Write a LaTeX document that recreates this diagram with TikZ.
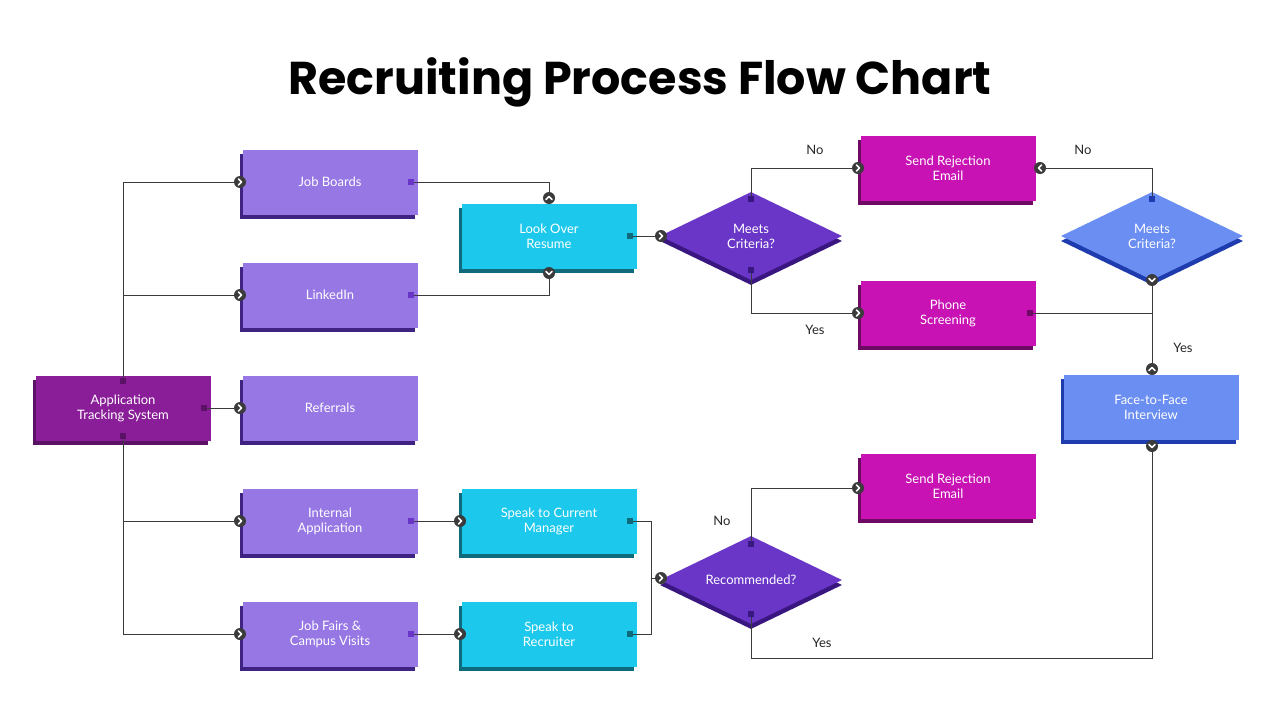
\documentclass[tikz,border=0pt]{standalone}
\usepackage{fontspec}
\setmainfont{Lato}
\newfontfamily\titlefont{Poppins}
\usetikzlibrary{shapes.geometric,shadows}
\definecolor{cAts}{HTML}{8A1E98}\definecolor{sAts}{HTML}{5A1166}
\definecolor{cSrc}{HTML}{9677E4}\definecolor{sSrc}{HTML}{3F2383}
\definecolor{cCy}{HTML}{1CC8EB}\definecolor{sCy}{HTML}{0F6B7C}
\definecolor{cDi}{HTML}{6A36C8}\definecolor{sDi}{HTML}{3A1680}
\definecolor{cMg}{HTML}{C812B4}\definecolor{sMg}{HTML}{6E0A63}
\definecolor{cBl}{HTML}{6A8EF1}\definecolor{sBl}{HTML}{1E3CAE}
\definecolor{mk}{HTML}{3B3B3B}
\tikzset{
 box/.style n args={2}{rectangle,minimum width=175pt,minimum height=65pt,inner sep=0,fill=#1,text=white,align=center,font=\fontsize{13}{15}\selectfont,
   drop shadow={shadow xshift=-3pt,shadow yshift=-4pt,fill=#2,opacity=1}},
 dia/.style n args={2}{diamond,aspect=2.07,minimum width=182pt,minimum height=88pt,inner sep=0,fill=#1,text=white,align=center,font=\fontsize{13}{15}\selectfont,
   drop shadow={shadow xshift=0pt,shadow yshift=-5pt,fill=#2,opacity=1}},
 ln/.style={draw=mk,line width=0.8pt},
 lbl/.style={font=\fontsize{13}{15}\selectfont,text=black!85},
 chev/.pic={\fill[mk] (0,0) circle (6); \draw[white,line width=1.5pt,line cap=round,line join=round] (-1.5,3) -- (1.5,0) -- (-1.5,-3);}
}
\newcommand\sq[2]{\fill[#1] ($#2+(-3,-3)$) rectangle ++(6,6);}
\usetikzlibrary{calc}
\begin{document}
\begin{tikzpicture}[x=1pt,y=-1pt]
\useasboundingbox[fill=white] (0,0) rectangle (1280,720);
\node[font=\titlefont\bfseries\fontsize{46}{50}\selectfont] (title) at (640,82) {Recruiting Process Flow Chart};
\node[box={cAts}{sAts}] (ats) at (123,408) {Application\\Tracking System};
\node[box={cSrc}{sSrc}] (jb) at (330,182) {Job Boards};
\node[box={cSrc}{sSrc}] (li) at (330,295) {LinkedIn};
\node[box={cSrc}{sSrc}] (re) at (330,408) {Referrals};
\node[box={cSrc}{sSrc}] (ia) at (330,521) {Internal\\Application};
\node[box={cSrc}{sSrc}] (jf) at (330,634) {Job Fairs \&\\Campus Visits};
\node[box={cCy}{sCy}] (lo) at (549,236) {Look Over\\Resume};
\node[box={cCy}{sCy}] (cm) at (549,521) {Speak to Current\\Manager};
\node[box={cCy}{sCy}] (sr) at (549,634) {Speak to\\Recruiter};
\node[dia={cDi}{sDi}] (d1) at (751,236) {Meets\\Criteria?};
\node[dia={cDi}{sDi}] (d3) at (751,580) {Recommended?};
\node[dia={cBl}{sBl}] (d2) at (1152,236) {Meets\\Criteria?};
\node[box={cMg}{sMg}] (rj1) at (948,168) {Send Rejection\\Email};
\node[box={cMg}{sMg}] (ps) at (948,313) {Phone\\Screening};
\node[box={cMg}{sMg}] (rj2) at (948,486) {Send Rejection\\Email};
\node[box={cBl}{sBl}] (ff) at (1151,407) {Face-to-Face\\Interview};
% ATS tree
\coordinate (at) at (123,381); \coordinate (ab) at (123,436);
\draw[ln] (at) |- (240,182); \draw[ln] (123,295) -- (240,295);
\draw[ln] (ab) |- (240,634); \draw[ln] (123,521) -- (240,521);
\draw[ln] (204,408) -- (240,408);
\sq{sAts}{(at)} \sq{sAts}{(ab)} \sq{sAts}{(204,408)}
\pic at (240,182) {chev}; \pic at (240,295) {chev}; \pic at (240,408) {chev}; \pic at (240,521) {chev}; \pic at (240,634) {chev};
% sources
\draw[ln] (411,182) -| (549,198); \draw[ln] (411,295) -| (549,273);
\sq{cDi}{(411,182)} \sq{cDi}{(411,295)}
\pic[rotate=90] at (549,198) {chev}; \pic[rotate=-90] at (549,273) {chev};
\draw[ln] (411,521) -- (460,521); \draw[ln] (411,634) -- (460,634);
\sq{cDi}{(411,521)} \sq{cDi}{(411,634)}
\pic at (460,521) {chev}; \pic at (460,634) {chev};
% look over
\draw[ln] (630,236) -- (661,236); \sq{sCy}{(630,236)} \pic at (661,236) {chev};
% d1
\draw[ln] (751,199) |- (858,168); \sq{sDi}{(751,199)} \pic at (858,168) {chev};
\draw[ln] (751,270) |- (858,313); \sq{sDi}{(751,270)} \pic at (858,313) {chev};
\node[lbl] at (815,150) {No}; \node[lbl] at (815,330) {Yes};
% phone / d2
\draw[ln] (1030,313) -- (1152,313); \sq{sMg}{(1030,313)}
\draw[ln] (1152,280) -- (1152,369);
\pic[rotate=-90] at (1152,280) {chev}; \pic[rotate=90] at (1152,369) {chev};
\draw[ln] (1152,199) |- (1040,168); \fill[sBl] (1149,196) rectangle ++(6,6); \pic[rotate=180] at (1040,168) {chev};
\node[lbl] at (1083,150) {No}; \node[lbl] at (1183,348) {Yes};
% bottom
\draw[ln] (630,521) -| (651,634) -- (630,634); \draw[ln] (651,578) -- (661,578);
\sq{sCy}{(630,521)} \sq{sCy}{(630,634)} \pic at (661,578) {chev};
\draw[ln] (751,544) |- (858,488); \sq{sDi}{(751,544)} \pic at (858,488) {chev};
\draw[ln] (751,614) -- (751,658) -| (1152,446); \sq{sDi}{(751,614)} \pic[rotate=-90] at (1152,446) {chev};
\node[lbl] at (722,521) {No}; \node[lbl] at (822,643) {Yes};
\end{tikzpicture}
\end{document}
